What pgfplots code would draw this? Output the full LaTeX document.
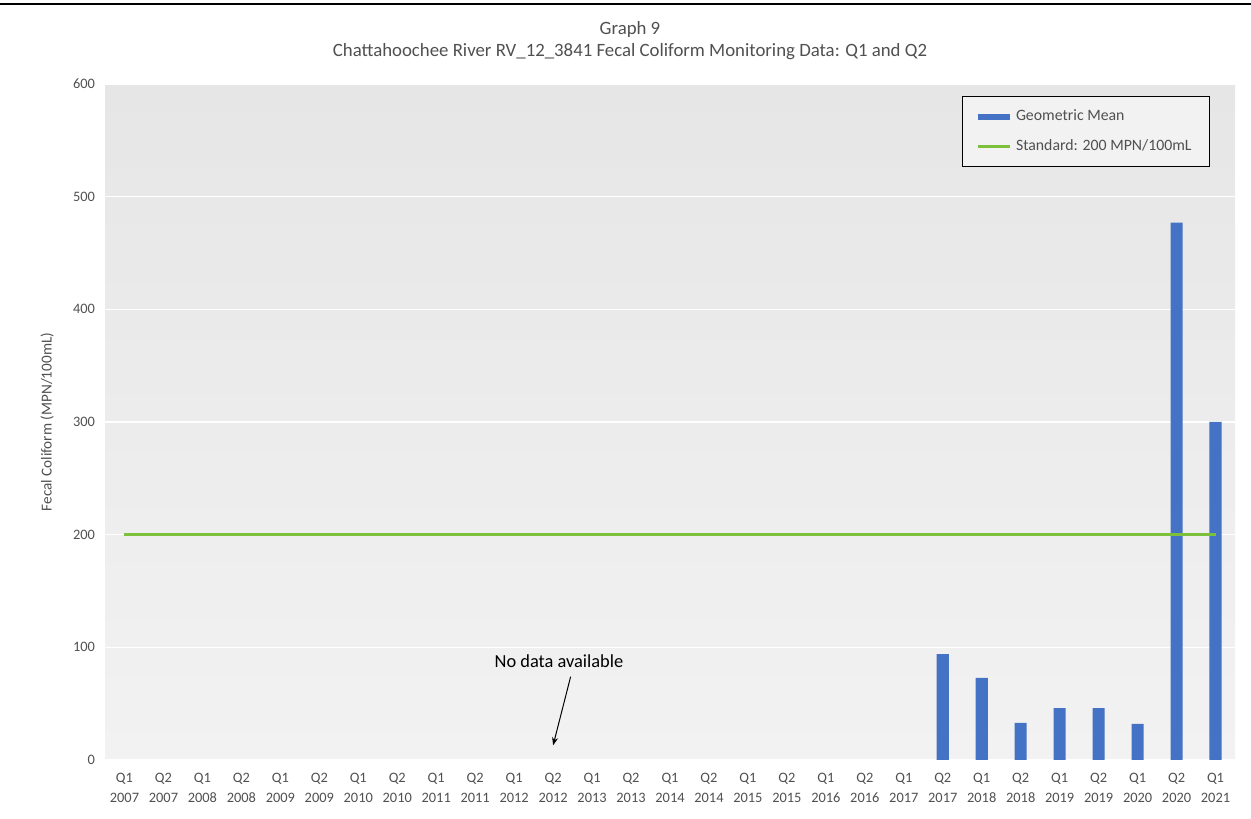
\documentclass[border=0pt]{standalone}
\usepackage{pgfplots}
\pgfplotsset{compat=1.18}
\usepackage{fontspec}
\setmainfont{Carlito}
\usetikzlibrary{arrows.meta}
\definecolor{barblue}{RGB}{68,114,196}
\definecolor{stdgreen}{RGB}{124,192,60}
\definecolor{txtgray}{RGB}{80,80,80}
\definecolor{bgtop}{RGB}{230,230,230}
\definecolor{bgbot}{RGB}{242,242,242}

\begin{document}
\begin{tikzpicture}[x=1pt,y=1pt]
\useasboundingbox (-52.5,-29) rectangle (573,380);
\draw[line width=0.9pt] (-52.5,378) -- (573,378);
\begin{axis}[
  at={(0,0)}, anchor=south west,
  scale only axis, width=565pt, height=338pt,
  clip=false,
  xmin=-0.5, xmax=28.5, ymin=0, ymax=600,
  ytick={0,100,...,600},
  xtick={0,...,28},
  xticklabels={{Q1\\2007},{Q2\\2007},{Q1\\2008},{Q2\\2008},{Q1\\2009},{Q2\\2009},{Q1\\2010},{Q2\\2010},{Q1\\2011},{Q2\\2011},{Q1\\2012},{Q2\\2012},{Q1\\2013},{Q2\\2013},{Q1\\2014},{Q2\\2014},{Q1\\2015},{Q2\\2015},{Q1\\2016},{Q2\\2016},{Q1\\2017},{Q2\\2017},{Q1\\2018},{Q2\\2018},{Q1\\2019},{Q2\\2019},{Q1\\2020},{Q2\\2020},{Q1\\2021}},
  xticklabel style={align=center, font=\fontsize{7.2}{10}\selectfont, text=txtgray, yshift=-3pt},
  yticklabel style={font=\fontsize{7.2}{8}\selectfont, text=txtgray, xshift=-1.5pt},
  /pgf/number format/assume math mode=true,
  major tick length=0pt,
  axis line style={draw=none},
  ymajorgrids,
  major grid style={white, line width=0.8pt},
  axis background/.style={shade, top color=bgtop, bottom color=bgbot},
  legend style={at={(rel axis cs:0.978,0.982)}, anchor=north east, draw=black, line width=0.6pt, fill=bgtop!50!white,
    font=\fontsize{7.9}{9}\selectfont, text=txtgray, row sep=4pt, inner xsep=7pt, inner ysep=4.5pt},
  legend cell align=left,
]
\addplot[ybar, bar width=0.31, fill=barblue, draw=none,
  legend image code/.code={\fill[barblue] (0pt,-1.5pt) rectangle (16pt,1.5pt);}]
  coordinates {(21,94) (22,73) (23,33) (24,46) (25,46) (26,32) (27,477) (28,300)};
\addlegendentry{Geometric Mean}
\addplot[stdgreen, line width=1.6pt,
  legend image code/.code={\draw[stdgreen, line width=1.6pt] (0pt,0pt) -- (16pt,0pt);}]
  coordinates {(0,200) (28,200)};
\addlegendentry{Standard: 200 MPN/100mL}
\node[font=\fontsize{9.2}{10}\selectfont, text=black] at (axis cs:11.15,88) {No data available};
\draw[-{Stealth[length=4pt,width=3pt]}, line width=0.5pt] (axis cs:11.45,74) -- (axis cs:11.0,13);
\node[font=\fontsize{9.4}{10}\selectfont, text=txtgray] at (rel axis cs:0.4646,1.081) {Graph 9};
\node[font=\fontsize{9.4}{10}\selectfont, text=txtgray] at (rel axis cs:0.4646,1.048) {Chattahoochee River RV\_12\_3841 Fecal Coliform Monitoring Data: Q1 and Q2};
\node[rotate=90, font=\fontsize{7.6}{8}\selectfont, text=txtgray] at (rel axis cs:-0.0513,0.5) {Fecal Coliform (MPN/100mL)};
\end{axis}
\end{tikzpicture}
\end{document}
